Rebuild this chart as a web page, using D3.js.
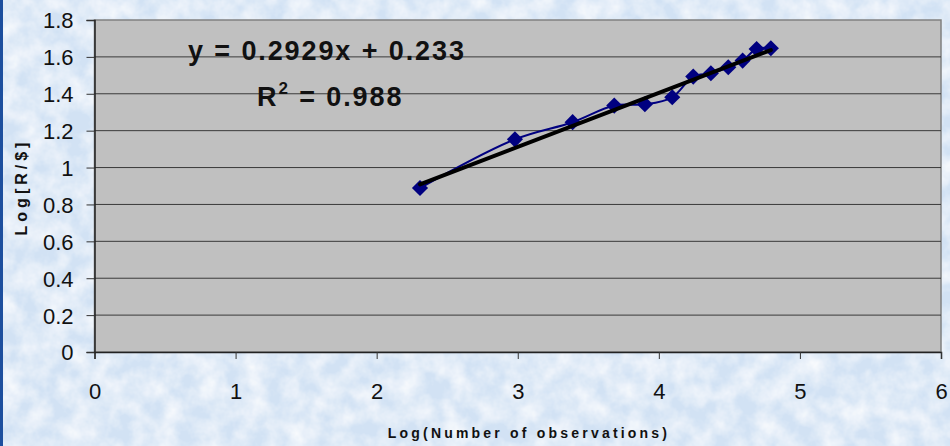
<!DOCTYPE html>
<html>
<head>
<meta charset="utf-8">
<script src="https://cdn.jsdelivr.net/npm/d3@7"></script>
<style>
  body { margin: 0; padding: 0; overflow: hidden; }
  svg { display: block; font-family: Arial, "Liberation Sans", sans-serif; }
</style>
</head>
<body>
<div id="chart"></div>
<script>
const frame_width = 950;
const frame_height = 446;
const margins = {left: 94.5, right: 9, top: 20, bottom: 94};

// data
const logObs = [2.307, 2.98, 3.389, 3.684, 3.901, 4.095, 4.244, 4.369, 4.492, 4.594, 4.693, 4.794];
const logRS  = [0.889, 1.153, 1.246, 1.336, 1.343, 1.381, 1.493, 1.511, 1.544, 1.58, 1.643, 1.647];
const xTicks = [0, 1, 2, 3, 4, 5, 6];
const yTicks = [0, 0.2, 0.4, 0.6, 0.8, 1, 1.2, 1.4, 1.6, 1.8];
const slope = 0.2929, intercept = 0.233, r2 = 0.988;

const points = logObs.map((x, i) => ({x: x, y: logRS[i]}));

const svg = d3.select("#chart")
  .append("svg")
    .attr("width", frame_width)
    .attr("height", frame_height);

// mottled light blue background
const defs = svg.append("defs");
const filt = defs.append("filter").attr("id", "paper").attr("x", 0).attr("y", 0).attr("width", "100%").attr("height", "100%");
filt.append("feTurbulence").attr("type", "fractalNoise").attr("baseFrequency", 0.045).attr("numOctaves", 4).attr("seed", 3).attr("result", "noise");
filt.append("feColorMatrix").attr("in", "noise").attr("type", "matrix")
  .attr("values", "0 0 0 0 1  0 0 0 0 1  0 0 0 0 1  0 0 0 1.3 -0.38")
  .attr("result", "spots");
filt.append("feComposite").attr("in", "spots").attr("in2", "SourceGraphic").attr("operator", "over");

svg.append("rect")
  .attr("width", frame_width).attr("height", frame_height)
  .attr("fill", "#d2e2f4")
  .attr("filter", "url(#paper)");

svg.append("rect")
  .attr("x", 0).attr("y", 0).attr("width", 3).attr("height", frame_height)
  .attr("fill", "#1d4f9e");

const X = d3.scaleLinear().domain([0, 6]).range([margins.left, frame_width - margins.right]);
const Y = d3.scaleLinear().domain([0, 1.8]).range([frame_height - margins.bottom, margins.top]);

// plot area
svg.append("rect")
  .attr("x", X(0)).attr("y", Y(1.8))
  .attr("width", X(6) - X(0)).attr("height", Y(0) - Y(1.8))
  .attr("fill", "#c0c0c0")
  .attr("stroke", "#808080")
  .attr("stroke-width", 1.5);

// gridlines
svg.append("g")
  .selectAll("line")
  .data(yTicks.filter(d => d > 0 && d < 1.8))
  .enter()
  .append("line")
    .attr("x1", X(0)).attr("x2", X(6))
    .attr("y1", d => Y(d)).attr("y2", d => Y(d))
    .attr("stroke", "#3a3a3a")
    .attr("stroke-width", 1);

// axes
const xAxis = svg.append("g")
  .attr("transform", "translate(0," + Y(0) + ")")
  .call(d3.axisBottom(X).tickValues(xTicks).tickFormat(d3.format("d")).tickSize(7).tickPadding(24));
const yAxis = svg.append("g")
  .attr("transform", "translate(" + X(0) + ",0)")
  .call(d3.axisLeft(Y).tickValues(yTicks).tickFormat(d => d3.format("")(+d.toFixed(1))).tickSize(8).tickPadding(13));

[xAxis, yAxis].forEach(a => {
  a.select(".domain").attr("stroke", "#222").attr("stroke-width", 1.5);
  a.selectAll(".tick line").attr("stroke", "#333");
  a.selectAll("text").attr("font-size", "22px").attr("fill", "#111")
    .attr("font-family", "Arial, 'Liberation Sans', sans-serif");
});
yAxis.selectAll("text").attr("dy", "0.36em");

// series line (smoothed)
const line = d3.line()
  .x(d => X(d.x)).y(d => Y(d.y))
  .curve(d3.curveCatmullRom.alpha(0.5));

svg.append("path")
  .datum(points)
  .attr("d", line)
  .attr("fill", "none")
  .attr("stroke", "#000080")
  .attr("stroke-width", 2);

// markers
svg.append("g")
  .selectAll("path")
  .data(points)
  .enter()
  .append("path")
    .attr("d", d3.symbol().type(d3.symbolSquare).size(130))
    .attr("transform", d => "translate(" + X(d.x) + "," + Y(d.y) + ") rotate(45)")
    .attr("fill", "#000080");

// trendline
const xMin = d3.min(logObs), xMax = d3.max(logObs);
svg.append("line")
  .attr("x1", X(xMin)).attr("y1", Y(slope * xMin + intercept))
  .attr("x2", X(xMax)).attr("y2", Y(slope * xMax + intercept))
  .attr("stroke", "#000")
  .attr("stroke-width", 4)
  .attr("stroke-linecap", "round");

// equation
svg.append("text")
  .attr("x", 188).attr("y", 60)
  .attr("font-size", "27px").attr("font-weight", "bold")
  .attr("letter-spacing", "1.9px")
  .attr("fill", "#111")
  .text("y = " + slope + "x + " + intercept);

const r2Text = svg.append("text")
  .attr("x", 257).attr("y", 106)
  .attr("font-size", "27px").attr("font-weight", "bold")
  .attr("letter-spacing", "1.9px")
  .attr("fill", "#111");
r2Text.append("tspan").text("R");
r2Text.append("tspan").attr("font-size", "17px").attr("dy", -12).text("2");
r2Text.append("tspan").attr("dy", 12).text(" = " + r2);

// axis titles
svg.append("text")
  .attr("x", 529).attr("y", 438)
  .attr("text-anchor", "middle")
  .attr("font-size", "14px").attr("font-weight", "bold")
  .attr("letter-spacing", "3.2px")
  .attr("fill", "#111")
  .text("Log(Number of observations)");

svg.append("text")
  .attr("transform", "translate(27,187) rotate(-90)")
  .attr("text-anchor", "middle")
  .attr("font-size", "16px").attr("font-weight", "bold")
  .attr("letter-spacing", "4px")
  .attr("fill", "#111")
  .text("Log[R/$]");
</script>
</body>
</html>
